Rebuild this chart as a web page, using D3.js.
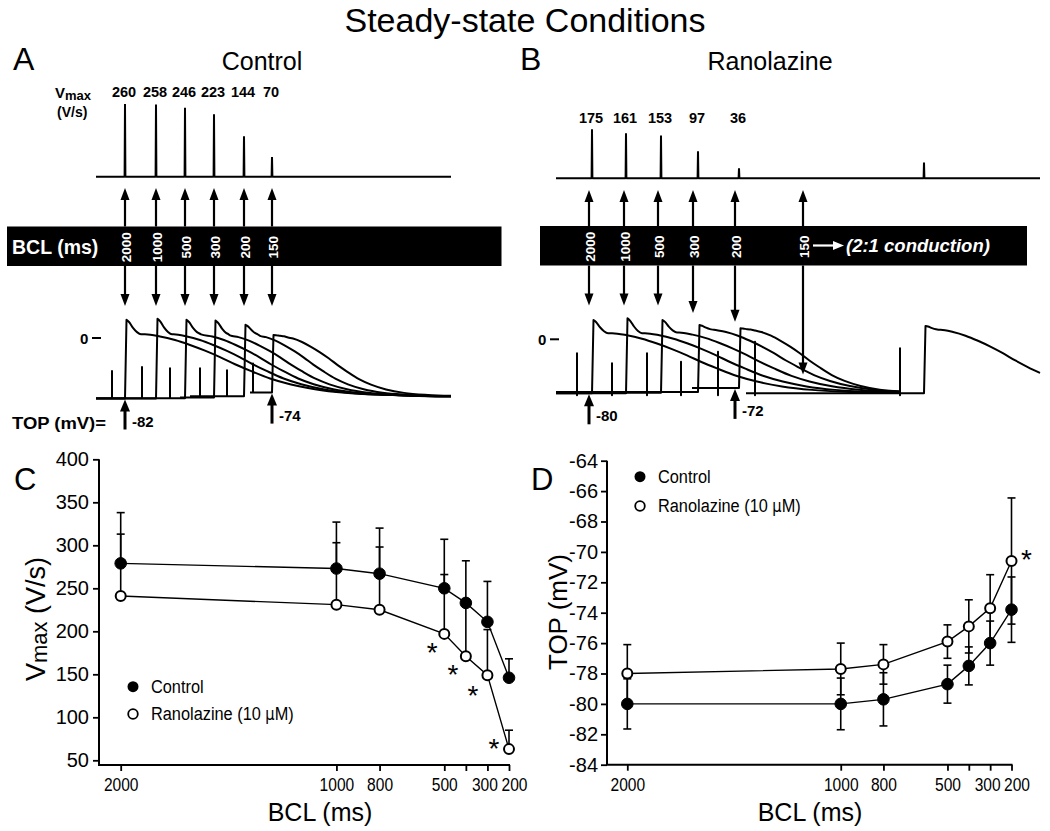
<!DOCTYPE html>
<html><head><meta charset="utf-8">
<script src="https://cdn.jsdelivr.net/npm/d3@7"></script>
<style>
html,body{margin:0;padding:0;background:#fff;}
svg{display:block;font-family:"Liberation Sans",Arial,Helvetica,sans-serif;}
</style></head><body>
<svg id="fig" width="1050" height="831"></svg>
<script>
// ================= DATA =================
// --- Panels C & D (summary data) ---
const bcl = [2000, 1000, 800, 500, 400, 300, 200];
const bclTickLabels = ["2000", "1000", "800", "500", "", "300", "200"];
const vmaxTicks = [50, 100, 150, 200, 250, 300, 350, 400];
const topTicks = [-84, -82, -80, -78, -76, -74, -72, -70, -68, -66, -64];

const vmaxControl    = [279, 273, 267, 250, 233, 211, 146];
const vmaxControlErr = [59, 54, 53, 57, 49, 47, 22];
const vmaxRano       = [241, 231, 225, 197, 171, 149, 63];
const vmaxRanoErr    = [72, 72, 73, 69, 59, 53, 22];
const vmaxStars      = [false, false, false, true, true, true, true];

const topControl    = [-80.0, -80.0, -79.7, -78.7, -77.5, -76.0, -73.8];
const topControlErr = [1.65, 1.7, 1.75, 1.25, 1.25, 1.45, 2.15];
const topRano       = [-78.0, -77.7, -77.4, -75.9, -74.9, -73.7, -70.6];
const topRanoErr    = [1.9, 1.7, 1.3, 1.1, 1.75, 2.2, 4.15];
const topStars      = [false, false, false, false, false, false, true];

// --- Panel A (Control) traces ---
const aBCL    = ["2000", "1000", "500", "300", "200", "150"];
const aVmax   = [260, 258, 246, 223, 144, 70];
const aUpT    = [29, 60, 89, 118, 148, 176];      // upstroke time (trace units)
const aStartT = [0, 0, 0, 84, 94, 154];
const aEndT   = [355, 355, 355, 355, 355, 355];
const aTOP    = [-82, -82, -81.5, -80.5, -79, -74];  // take-off potential (mV)
const aPeak   = [24.6, 26, 24.6, 23.6, 17.8, 4.1];
const aPlat   = [5, 5, 5, 4, 4, 2];
const aDurScale = [1, 0.88, 0.78, 0.7, 0.63, 0.6];
const aStimT   = [16, 46, 74, 104, 131, 157];
const aStimTop = [-44.7, -39.2, -41, -41, -43.7, -34.5];
const aStimTrace = [0, 1, 2, 3, 4, 5];
const aTopLabels = [{i: 0, txt: "-82"}, {i: 5, txt: "-74"}];

// --- Panel B (Ranolazine) traces ---
const bBCL    = ["2000", "1000", "500", "300", "200", "150"];
const bVmax   = [175, 161, 153, 97, 36, 56];
const bVmaxLabels = ["175", "161", "153", "97", "36", ""];
const bUpT    = [36, 70, 105, 142, 183, 368];
const bArrowT = [33, 68, 102, 137, 179, 247];
const bArrowTipV = [50, 50, 50, 39, 26, -52];
const bStartT = [0, 0, 0, 0, 136, 190];
const bEndT   = [344, 344, 344, 344, 344, 484];
const bTOP    = [-80, -80, -79, -78, -72, -80];
const bPeak   = [28.6, 31.1, 28.6, 21.2, 16.3, 19.7];
const bPlat   = [9, 9, 10, 14, 14, 14];
const bDurScale = [1.0, 0.95, 0.9, 0.8, 0.64, 0.83];
const bStimT   = [21, 56, 91, 125, 162, 199, 344];
const bStimTop = [-20.7, -35.6, -20.7, -33.2, -18.4, -3.6, -13.3];
const bStimTrace = [0, 1, 2, 3, 4, 5, 5];
const bTopLabels = [{i: 0, txt: "-80"}, {i: 4, txt: "-72"}];

// AP shape template read from the 2000-ms control AP (fraction of plateau amplitude)
const tplU = [0, 20, 35, 50, 65, 80, 95, 110, 125, 145, 165, 190, 220, 260, 320];
const tplF = [1, 1, 0.966, 0.908, 0.828, 0.736, 0.632, 0.517, 0.414, 0.287, 0.195, 0.115, 0.057, 0.023, 0];
const notchT = [0, 1.5, 4, 8, 12, 16];
const notchF = [0, 1, 0.85, 0.45, 0.15, 0];

// ================= DRAWING =================
const svg = d3.select("#fig");
svg.append("rect").attr("width", 1050).attr("height", 831).attr("fill", "#fff");

function txt(g, x, y, s, opt = {}) {
  const t = g.append("text").attr("x", x).attr("y", y).text(s)
    .attr("font-size", opt.size || 14)
    .attr("font-weight", opt.bold ? "bold" : null)
    .attr("font-style", opt.italic ? "italic" : null)
    .attr("text-anchor", opt.anchor || "start")
    .attr("fill", opt.fill || "#000");
  if (opt.rotate) t.attr("transform", `rotate(${opt.rotate},${x},${y})`);
  if (opt.baseline) t.attr("dominant-baseline", opt.baseline);
  if (opt.len) t.attr("textLength", opt.len).attr("lengthAdjust", "spacingAndGlyphs");
  return t;
}

function vArrow(g, x, yFrom, yTo, sw, hw, hl) {
  const dir = yTo > yFrom ? 1 : -1;
  g.append("line").attr("x1", x).attr("x2", x).attr("y1", yFrom).attr("y2", yTo - dir * hl * 0.7)
    .attr("stroke", "#000").attr("stroke-width", sw);
  g.append("path").attr("d", `M${x},${yTo} L${x - hw / 2},${yTo - dir * hl} L${x + hw / 2},${yTo - dir * hl} Z`)
    .attr("fill", "#000");
}

// Title
txt(svg, 525, 32, "Steady-state Conditions", {size: 34, anchor: "middle"});

const gScaleT = d3.scaleLinear().domain(tplU).range(tplF).clamp(true);
const hScaleT = d3.scaleLinear().domain(notchT).range(notchF).clamp(true);

function tracePath(tr, xS, yS) {
  const pre = [[tr.start, tr.top]];
  tr.stims.forEach(s => { pre.push([s.t, tr.top], [s.t, s.v], [s.t, s.low], [s.t, tr.top]); });
  pre.push([tr.up, tr.top]);
  const V = dt => {
    const base = tr.rest + (tr.plat - tr.rest) * gScaleT(dt / tr.scale);
    return base + (tr.peak - base) * hScaleT(dt);
  };
  let dts = [...notchT.slice(1), ...tplU.slice(1).map(u => u * tr.scale)];
  dts = Array.from(new Set(dts.map(d => +d.toFixed(2)))).sort((a, b) => a - b);
  const maxDt = tr.end - tr.up;
  const post = dts.filter(d => d < maxDt - 0.5).map(d => [tr.up + d, V(d)]);
  post.push([tr.end, V(maxDt)]);
  const lin = d3.line().x(d => xS(d[0])).y(d => yS(d[1]));
  const cur = d3.line().x(d => xS(d[0])).y(d => yS(d[1])).curve(d3.curveMonotoneX);
  return lin(pre) + cur(post).replace(/^M/, "L");
}

function vmaxPath(ups, vals, xS, yS, t0, t1) {
  const pts = [[t0, 0]];
  ups.forEach((t, i) => { pts.push([t - 0.4, 0], [t, vals[i]], [t + 0.4, 0]); });
  pts.push([t1, 0]);
  return d3.line().x(d => xS(d[0])).y(d => yS(d[1]))(pts);
}

function tracePanel(cfg) {
  const g = svg.append("g");
  const xS = d3.scaleLinear().domain(cfg.tDomain).range(cfg.xRange);
  const yS = d3.scaleLinear().domain([cfg.vRef, 0]).range([cfg.yRef, cfg.yZero]);
  const vS = d3.scaleLinear().domain([0, 300]).range([cfg.vBase, cfg.vBase - 84]);

  // Vmax trace
  g.append("path").attr("d", vmaxPath(cfg.up, cfg.vmax, xS, vS, cfg.tDomain[0], cfg.tDomain[1]))
    .attr("fill", "none").attr("stroke", "#000").attr("stroke-width", 2).attr("stroke-linejoin", "bevel");
  cfg.vmaxLabels.forEach((s, i) => { if (s) txt(g, xS(cfg.up[i]) - 1, cfg.vLabelY, s, {size: 14.5, bold: true, anchor: "middle"}); });

  // black bar
  g.append("rect").attr("x", cfg.bar[0]).attr("y", cfg.bar[1]).attr("width", cfg.bar[2]).attr("height", cfg.bar[3]).attr("fill", "#000");
  const barTop = cfg.bar[1], barBot = cfg.bar[1] + cfg.bar[3], barMid = barTop + cfg.bar[3] / 2;

  cfg.bclLabels.forEach((s, i) => {
    const x = xS(cfg.arrowT[i]);
    vArrow(g, x, barTop, cfg.upTipY, 2.2, 9, 12);
    vArrow(g, x, barBot, cfg.downTipY(i, yS), 2.2, 9, 12);
    txt(g, x + 1, barMid + 1, s, {size: 13.5, bold: true, anchor: "middle", fill: "#fff", rotate: -90, baseline: "central"});
  });

  // AP traces
  cfg.traces.forEach(tr => {
    g.append("path").attr("d", tracePath(tr, xS, yS)).attr("fill", "none")
      .attr("stroke", "#000").attr("stroke-width", 2).attr("stroke-linejoin", "round");
  });

  // 0 mV marker
  txt(g, cfg.zeroX, yS(0) + 5.5, "0", {size: 15, bold: true});
  g.append("line").attr("x1", cfg.zeroX + 12).attr("x2", cfg.zeroX + 21).attr("y1", yS(0)).attr("y2", yS(0))
    .attr("stroke", "#000").attr("stroke-width", 2);

  // TOP labels
  cfg.topLabels.forEach(d => {
    const x = xS(cfg.arrowT[d.i]);
    const yTip = yS(cfg.traces[d.i].top) + 1;
    vArrow(g, x, yTip + 30, yTip, 3, 10, 12);
    txt(g, x + 7, yTip + 27, d.txt, {size: 15, bold: true});
  });
  return {g, xS, yS};
}

function buildTraces(n, P) {
  const arr = [];
  for (let i = 0; i < n; i++) {
    arr.push({start: P.start[i], up: P.up[i], end: P.end[i], top: P.top[i], peak: P.peak[i],
      plat: P.plat[i], scale: P.scale[i], rest: P.rest, stims: []});
  }
  P.stimT.forEach((t, k) => {
    const tr = arr[P.stimTrace[k]];
    tr.stims.push({t: t, v: P.stimTop[k], low: P.stimLow === null ? tr.top : P.stimLow});
  });
  return arr;
}

// ---- Panel A ----
txt(svg, 13, 70, "A", {size: 32});
txt(svg, 262, 70, "Control", {size: 25, anchor: "middle"});
const aTraces = buildTraces(6, {start: aStartT, up: aUpT, end: aEndT, top: aTOP, peak: aPeak, plat: aPlat,
  scale: aDurScale, rest: -79, stimT: aStimT, stimTop: aStimTop, stimTrace: aStimTrace, stimLow: null});
const A = tracePanel({
  tDomain: [0, 355], xRange: [96, 451], vRef: -82, yRef: 398.5, yZero: 338,
  vBase: 176.7, vmax: aVmax, up: aUpT, vmaxLabels: aVmax.map(String), vLabelY: 96.5,
  bar: [7, 226.5, 494.5, 39.5], bclLabels: aBCL, arrowT: aUpT, upTipY: 188,
  downTipY: () => 306, traces: aTraces, zeroX: 80, topLabels: aTopLabels
});
// Vmax label
const vl = svg.append("text").attr("x", 55).attr("y", 97.5).attr("font-size", 15).attr("font-weight", "bold");
vl.append("tspan").text("V");
vl.append("tspan").attr("font-size", 13).attr("dy", 2.5).text("max");
txt(svg, 57, 117, "(V/s)", {size: 14, bold: true});
txt(svg, 12, 253.5, "BCL (ms)", {size: 19.5, bold: true, fill: "#fff"});
txt(svg, 12, 429, "TOP (mV)=", {size: 16, bold: true, len: 94});

// ---- Panel B ----
txt(svg, 520, 70, "B", {size: 32});
txt(svg, 770, 70, "Ranolazine", {size: 25, anchor: "middle"});
const bTraces = buildTraces(6, {start: bStartT, up: bUpT, end: bEndT, top: bTOP, peak: bPeak, plat: bPlat,
  scale: bDurScale, rest: -80, stimT: bStimT, stimTop: bStimTop, stimTrace: bStimTrace, stimLow: -83});
const B = tracePanel({
  tDomain: [0, 484], xRange: [556, 1040], vRef: -80, yRef: 393.3, yZero: 339.3,
  vBase: 178.3, vmax: bVmax, up: bUpT, vmaxLabels: bVmaxLabels, vLabelY: 123,
  bar: [540, 226, 487, 39.5], bclLabels: bBCL, arrowT: bArrowT, upTipY: 190,
  downTipY: (i, yS) => yS(bArrowTipV[i]), traces: bTraces, zeroX: 538, topLabels: bTopLabels
});
// "→ (2:1 conduction)"
(function () {
  const y = 245.5;
  svg.append("line").attr("x1", 813).attr("x2", 836).attr("y1", y).attr("y2", y).attr("stroke", "#fff").attr("stroke-width", 2.2);
  svg.append("path").attr("d", `M844,${y} L833,${y - 4.5} L833,${y + 4.5} Z`).attr("fill", "#fff");
  txt(svg, 846, y + 6.5, "(2:1 conduction)", {size: 18.5, bold: true, italic: true, fill: "#fff"});
})();

// ---- Summary plots ----
const xLabelShift = [0, 0, 0, 0, 0, -3, 5];

function summaryPlot(cfg) {
  const g = svg.append("g");
  const x = d3.scaleLinear().domain([2000, 200]).range(cfg.xr);
  const y = d3.scaleLinear().domain(cfg.yd).range(cfg.yr);
  const axY = cfg.axisX, axB = cfg.axisBottom;

  // axes
  const ya = g.append("g").attr("transform", `translate(${axY},0)`)
    .call(d3.axisLeft(y).tickValues(cfg.yTicks).tickSize(6).tickSizeOuter(0).tickPadding(cfg.yPad).tickFormat(d => String(d)));
  const xa = g.append("g").attr("transform", `translate(0,${axB})`)
    .call(d3.axisBottom(x).tickValues(bcl).tickSize(6).tickSizeOuter(0).tickPadding(7).tickFormat((d, i) => bclTickLabels[i]));
  [ya, xa].forEach(a => {
    a.select(".domain").remove();
    a.selectAll(".tick line").attr("stroke", "#000").attr("stroke-width", 1.8);
    a.selectAll(".tick text").attr("fill", "#000").attr("font-family", '"Liberation Sans",Arial,sans-serif');
  });
  ya.selectAll(".tick text").attr("font-size", 20);
  xa.selectAll(".tick text").attr("font-size", 19)
    .attr("transform", (d, i) => `translate(${xLabelShift[i]},0) scale(0.82,1)`);
  g.append("line").attr("x1", axY).attr("x2", axY).attr("y1", y(cfg.yd[1])).attr("y2", axB).attr("stroke", "#000").attr("stroke-width", 2);
  g.append("line").attr("x1", axY - 1).attr("x2", x(200) + 1).attr("y1", axB).attr("y2", axB).attr("stroke", "#000").attr("stroke-width", 2);

  const series = [
    {v: cfg.ran, e: cfg.ranErr, filled: false},
    {v: cfg.ctl, e: cfg.ctlErr, filled: true}
  ];
  // lines
  series.forEach(s => {
    g.append("path").attr("d", d3.line().x((d, i) => x(bcl[i])).y(d => y(d))(s.v))
      .attr("fill", "none").attr("stroke", "#000").attr("stroke-width", 1.4);
  });
  // error bars
  series.forEach(s => {
    s.v.forEach((m, i) => {
      const xi = x(bcl[i]);
      const hi = y(m + s.e[i]), lo = cfg.twoSided ? y(m - s.e[i]) : y(m);
      g.append("line").attr("x1", xi).attr("x2", xi).attr("y1", hi).attr("y2", lo).attr("stroke", "#000").attr("stroke-width", 1.6);
      g.append("line").attr("x1", xi - 4).attr("x2", xi + 4).attr("y1", hi).attr("y2", hi).attr("stroke", "#000").attr("stroke-width", 1.6);
      if (cfg.twoSided) g.append("line").attr("x1", xi - 4).attr("x2", xi + 4).attr("y1", lo).attr("y2", lo).attr("stroke", "#000").attr("stroke-width", 1.6);
    });
  });
  // markers
  series.forEach(s => {
    g.selectAll(null).data(s.v).enter().append("circle")
      .attr("cx", (d, i) => x(bcl[i])).attr("cy", d => y(d))
      .attr("r", s.filled ? 5.8 : 5)
      .attr("fill", s.filled ? "#000" : "#fff").attr("stroke", "#000").attr("stroke-width", s.filled ? 1 : 2);
  });
  // stars
  cfg.stars.forEach((st, i) => {
    if (!st) return;
    const off = cfg.starOff[i];
    const cx = x(bcl[i]) + off[0], cy = y(cfg.ran[i]) + off[1];
    txt(g, cx, cy + 16, "*", {size: 28, anchor: "middle"});
  });
  // legend
  const L = cfg.legend;
  g.append("circle").attr("cx", L[0]).attr("cy", L[1]).attr("r", 5.5).attr("fill", "#000");
  g.append("circle").attr("cx", L[0]).attr("cy", L[1] + L[2]).attr("r", 4.8).attr("fill", "#fff").attr("stroke", "#000").attr("stroke-width", 1.8);
  txt(g, L[0] + 18, L[1] + 6.5, "Control", {size: 19}).attr("transform", `translate(${(L[0] + 18) * 0.14},0) scale(0.86,1)`);
  const rt = txt(g, L[0] + 18, L[1] + L[2] + 6.5, "", {size: 19}).attr("transform", `translate(${(L[0] + 18) * 0.14},0) scale(0.86,1)`);
  rt.append("tspan").text("Ranolazine (10 ");
  rt.append("tspan").attr("font-family", "Symbol, 'DejaVu Sans', sans-serif").attr("font-size", 17).text("\u03BC");
  rt.append("tspan").text("M)");
  // axis titles
  txt(g, cfg.xTitleX, 821, "BCL (ms)", {size: 25, anchor: "middle"});
  return {g, x, y};
}

txt(svg, 14, 490, "C", {size: 31});
summaryPlot({
  xr: [120.7, 509], yd: [50, 400], yr: [760.3, 459.3], axisX: 99, axisBottom: 765, yTicks: vmaxTicks, yPad: 4,
  ctl: vmaxControl, ctlErr: vmaxControlErr, ran: vmaxRano, ranErr: vmaxRanoErr, twoSided: false,
  stars: vmaxStars, starOff: [null, null, null, [-12, 12], [-13, 12], [-14.5, 14], [-15, -7]],
  legend: [133, 686.7, 27.3], xTitleX: 320
});
// Vmax (V/s) y title
(function () {
  const t = svg.append("text").attr("transform", "translate(45,619) rotate(-90)").attr("text-anchor", "middle").attr("font-size", 27);
  t.append("tspan").text("V");
  t.append("tspan").attr("font-size", 22).attr("dy", 2).text("max");
  t.append("tspan").attr("dy", -2).text(" (V/s)");
})();

txt(svg, 531, 490, "D", {size: 31});
summaryPlot({
  xr: [627.3, 1011.5], yd: [-84, -64], yr: [764.7, 460.7], axisX: 607, axisBottom: 764.7, yTicks: topTicks, yPad: 3,
  ctl: topControl, ctlErr: topControlErr, ran: topRano, ranErr: topRanoErr, twoSided: true,
  stars: topStars, starOff: [null, null, null, null, null, null, [15, -8]],
  legend: [640, 476.7, 29.3], xTitleX: 810
});
txt(svg, 567, 612, "TOP (mV)", {size: 26, anchor: "middle", rotate: -90});
</script>
</body></html>
